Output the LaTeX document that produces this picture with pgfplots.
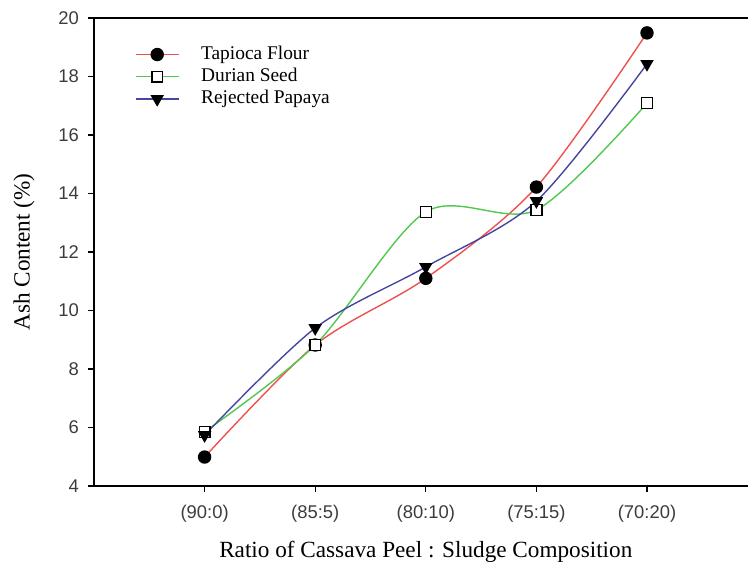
\documentclass[border=0pt]{standalone}
\usepackage{fontspec}
\setmainfont{Liberation Serif}
\newfontfamily\arialf{Liberation Sans}
\newfontfamily\timesf{Liberation Serif}
\usepackage{pgfplots}
\pgfplotsset{compat=1.18}
\definecolor{cred}{RGB}{240,80,80}
\definecolor{cgreen}{RGB}{80,200,80}
\definecolor{cblue}{RGB}{70,70,160}
\definecolor{ticktext}{RGB}{60,60,60}
\begin{document}
\begin{tikzpicture}
\begin{axis}[
  scale only axis,
  width=331.8pt, height=234pt,
  xmin=0, xmax=6, ymin=4, ymax=20,
  xtick={1,2,3,4,5},
  xticklabels={(90:0),(85:5),(80:10),(75:15),(70:20)},
  ytick={4,6,...,20},
  xtick pos=bottom, ytick pos=left,
  tick align=outside,
  major tick length=3pt,
  tick style={black, line width=0.6pt},
  axis line style={black, line width=0.8pt},
  /pgf/number format/assume math mode=true,
  xticklabel style={font=\arialf\fontsize{9.2}{10}\selectfont, text=ticktext, yshift=-3pt},
  yticklabel style={font=\arialf\fontsize{9.2}{10}\selectfont, text=ticktext, xshift=-1pt},
  xlabel={Ratio of Cassava Peel : Sludge Composition},
  ylabel={Ash Content (\%)},
  label style={font=\timesf\fontsize{11.6}{13}\selectfont},
  xlabel style={at={(rel axis cs:0.5,0)}, anchor=center, yshift=-33pt},
  ylabel style={at={([xshift=-35pt]rel axis cs:0,0.5)}, anchor=center},
  legend style={draw=none, fill=none, at={(0.052,0.955)}, anchor=north west,
    font=\timesf\fontsize{9.7}{11}\selectfont, row sep=0pt,
    nodes={inner sep=0.8pt, text height=7pt, text depth=2.5pt},
    /tikz/every odd column/.append style={column sep=10pt}},
  legend cell align=left,
  legend image code/.code={\draw[mark repeat=2,mark phase=2,#1] plot coordinates {(0pt,0pt) (10.8pt,0pt) (21.6pt,0pt)};},
  every axis plot/.append style={line width=0.7pt, smooth},
]
\addplot[cred, mark=*, mark size=3pt, mark options={fill=black, draw=black, solid}] coordinates {
(1,4.99) (2,8.82) (3,11.10) (4,14.22) (5,19.49)};
\addlegendentry{\timesf Tapioca Flour}
\addplot[cgreen, mark=square*, mark size=2.7pt, mark options={fill=white, draw=black, line width=0.7pt, solid}] coordinates {
(1,5.85) (2,8.82) (3,13.37) (4,13.44) (5,17.09)};
\addlegendentry{\timesf Durian Seed}
\addplot[cblue, mark=triangle*, mark size=3.2pt, mark options={fill=black, draw=black, rotate=180, solid}] coordinates {
(1,5.74) (2,9.40) (3,11.49) (4,13.74) (5,18.43)};
\addlegendentry{\timesf Rejected Papaya}
\end{axis}
\pgfresetboundingbox
\path[use as bounding box] (-47pt,-39.5pt) rectangle (327pt,243pt);
\end{tikzpicture}
\end{document}
